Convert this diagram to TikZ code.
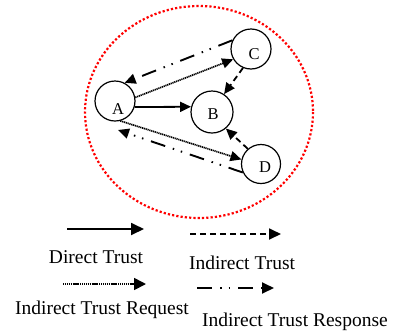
\documentclass[tikz,border=0pt]{standalone}
\usepackage{fontspec}
\setmainfont{Liberation Serif}
\usetikzlibrary{arrows.meta}
\tikzset{
  peer/.style={draw, circle, minimum size=40pt, inner sep=0pt, line width=1.2pt},
  peerlabel/.style={inner sep=0pt, font=\fontsize{16.5}{18}\selectfont},
  legtext/.style={inner sep=0pt, font=\fontsize{19.5}{22}\selectfont},
  tip/.style={-{Triangle[length=11pt,width=10pt]}},
  directtrust/.style={tip, line width=1.8pt},
  indirecttrust/.style={tip, line width=1.8pt, dash pattern=on 6pt off 4pt},
  requestline/.style={tip, line width=1.7pt, dash pattern=on 1.2pt off 0.7pt},
  responseline/.style={tip, line width=1.9pt, dash pattern=on 15pt off 8pt on 1.5pt off 7pt on 1.5pt off 8pt},
  boundary/.style={draw=red, line width=2.2pt, dash pattern=on 2.2pt off 2.1pt}
}
\begin{document}
\begin{tikzpicture}[x=1pt,y=-1pt]
\useasboundingbox (0,0) rectangle (398,335);
% community boundary
\draw[boundary] (199,112) ellipse [x radius=114, y radius=106];
% peers
\node[peer] (A) at (115,101) {};
\node[peer, minimum size=42pt] (B) at (212,112) {};
\node[peer] (C) at (251,49) {};
\node[peer, minimum size=39pt] (D) at (261,164) {};
\node[peerlabel] (Al) at (118,109) {A};
\node[peerlabel] (Bl) at (213,114) {B};
\node[peerlabel] (Cl) at (254,54) {C};
\node[peerlabel] (Dl) at (265,167) {D};
\coordinate (a2) at (118,130);
% connectors
\draw[directtrust] (A.-17) -- (B.166);
\draw[indirecttrust] (C.247) -- (B.56);
\draw[indirecttrust] (D.131) -- (B.-50);
\draw[requestline] (A.10) -- (C.210);
\draw[requestline] (A.-75) -- (D.167);
\draw[responseline] (C.155) -- (A.62);
\draw[responseline] (D.205) -- (a2);
% legend
\coordinate (l1s) at (67,229);  \coordinate (l1e) at (144,229);
\coordinate (l2s) at (190,234); \coordinate (l2e) at (281,234);
\coordinate (l3s) at (63,284);  \coordinate (l3e) at (146,284);
\coordinate (l4s) at (197,288); \coordinate (l4e) at (274,288);
\draw[directtrust, -{Triangle[length=13pt,width=12pt]}] (l1s) -- (l1e);
\draw[indirecttrust, -{Triangle[length=12pt,width=11pt]}] (l2s) -- (l2e);
\draw[requestline, -{Triangle[length=12pt,width=12pt]}] (l3s) -- (l3e);
\draw[responseline, -{Triangle[length=12pt,width=11pt]}] (l4s) -- (l4e);
\node[legtext] (t1) at (96,257) {Direct Trust};
\node[legtext] (t2) at (242,263) {Indirect Trust};
\node[legtext] (t3) at (102,310) {Indirect Trust Request};
\node[legtext] (t4) at (295,322) {Indirect Trust Response};
\end{tikzpicture}
\end{document}
